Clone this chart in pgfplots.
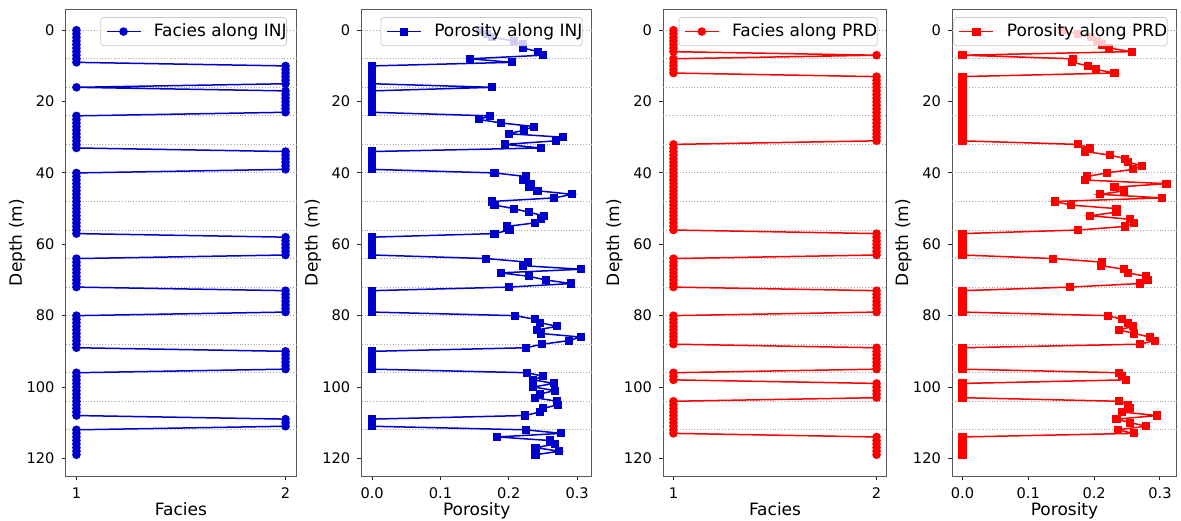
\documentclass[border=0pt]{standalone}
\usepackage{fontspec}
\setmainfont{DejaVu Sans}
\usepackage{pgfplots}
\pgfplotsset{compat=1.18}
\usepackage{pgfplotstable}

\definecolor{injblue}{HTML}{0000CD}
\definecolor{prdred}{HTML}{FF0000}

\pgfplotstableread{
d fac por
0 1 0.158
1 1 0.168
2 1 0.176
3 1 0.207
4 1 0.221
5 1 0.221
6 1 0.243
7 1 0.250
8 1 0.143
9 1 0.204
10 2 0
11 2 0
12 2 0
13 2 0
14 2 0
15 2 0
16 1 0.176
17 2 0
18 2 0
19 2 0
20 2 0
21 2 0
22 2 0
23 2 0
24 1 0.173
25 1 0.156
26 1 0.189
27 1 0.237
28 1 0.222
29 1 0.200
30 1 0.279
31 1 0.269
32 1 0.194
33 1 0.247
34 2 0
35 2 0
36 2 0
37 2 0
38 2 0
39 2 0
40 1 0.179
41 1 0.225
42 1 0.221
43 1 0.232
44 1 0.229
45 1 0.242
46 1 0.293
47 1 0.266
48 1 0.175
49 1 0.179
50 1 0.207
51 1 0.229
52 1 0.251
53 1 0.247
54 1 0.238
55 1 0.197
56 1 0.201
57 1 0.179
58 2 0
59 2 0
60 2 0
61 2 0
62 2 0
63 2 0
64 1 0.167
65 1 0.228
66 1 0.221
67 1 0.306
68 1 0.188
69 1 0.230
70 1 0.254
71 1 0.291
72 1 0.200
73 2 0
74 2 0
75 2 0
76 2 0
77 2 0
78 2 0
79 2 0
80 1 0.209
81 1 0.238
82 1 0.246
83 1 0.271
84 1 0.241
85 1 0.247
86 1 0.305
87 1 0.288
88 1 0.249
89 1 0.225
90 2 0
91 2 0
92 2 0
93 2 0
94 2 0
95 2 0
96 1 0.227
97 1 0.250
98 1 0.236
99 1 0.266
100 1 0.236
101 1 0.267
102 1 0.245
103 1 0.238
104 1 0.271
105 1 0.272
106 1 0.250
107 1 0.245
108 1 0.224
109 2 0
110 2 0
111 2 0
112 1 0.225
113 1 0.277
114 1 0.183
115 1 0.260
116 1 0.268
117 1 0.239
118 1 0.274
119 1 0.239
}\injtable

\pgfplotstableread{
d fac por
0 1 0.152
1 1 0.175
2 1 0.195
3 1 0.205
4 1 0.212
5 1 0.223
6 1 0.257
7 2 0
8 1 0.168
9 1 0.167
10 1 0.191
11 1 0.203
12 1 0.231
13 2 0
14 2 0
15 2 0
16 2 0
17 2 0
18 2 0
19 2 0
20 2 0
21 2 0
22 2 0
23 2 0
24 2 0
25 2 0
26 2 0
27 2 0
28 2 0
29 2 0
30 2 0
31 2 0
32 1 0.175
33 1 0.194
34 1 0.186
35 1 0.224
36 1 0.247
37 1 0.252
38 1 0.273
39 1 0.259
40 1 0.219
41 1 0.189
42 1 0.186
43 1 0.310
44 1 0.231
45 1 0.246
46 1 0.209
47 1 0.303
48 1 0.140
49 1 0.165
50 1 0.234
51 1 0.234
52 1 0.194
53 1 0.255
54 1 0.260
55 1 0.247
56 1 0.176
57 2 0
58 2 0
59 2 0
60 2 0
61 2 0
62 2 0
63 2 0
64 1 0.138
65 1 0.212
66 1 0.211
67 1 0.245
68 1 0.251
69 1 0.279
70 1 0.282
71 1 0.270
72 1 0.163
73 2 0
74 2 0
75 2 0
76 2 0
77 2 0
78 2 0
79 2 0
80 1 0.221
81 1 0.242
82 1 0.252
83 1 0.259
84 1 0.238
85 1 0.261
86 1 0.285
87 1 0.292
88 1 0.270
89 2 0
90 2 0
91 2 0
92 2 0
93 2 0
94 2 0
95 2 0
96 1 0.238
97 1 0.242
98 1 0.249
99 2 0
100 2 0
101 2 0
102 2 0
103 2 0
104 1 0.238
105 1 0.251
106 1 0.255
107 1 0.242
108 1 0.296
109 1 0.234
110 1 0.255
111 1 0.279
112 1 0.236
113 1 0.260
114 2 0
115 2 0
116 2 0
117 2 0
118 2 0
119 2 0
}\prdtable

\newcommand{\labfont}{\fontsize{8.5}{10.2}\selectfont}
\newcommand{\tickfont}{\fontsize{7.3}{8.8}\selectfont}

\pgfplotsset{
  welltrack/.style={
    scale only axis,
    height=233.5pt,
    anchor=south west,
    y dir=reverse,
    ymin=-5.95, ymax=124.95,
    ytick={0,20,...,120},
    ylabel={Depth (m)},
    extra y ticks={0,8,...,112},
    extra y tick labels={},
    extra y tick style={grid=major, major tick length=0pt,
      major grid style={densely dotted, black!35, line width=0.45pt}},
    tick align=outside,
    xtick pos=bottom, ytick pos=left,
    major tick length=2.2pt,
    every tick/.style={black!85, line width=0.45pt},
    axis line style={black!65, line width=0.5pt},
    tick label style={font=\tickfont},
    every axis y label/.style={at={(axis description cs:0,0.5)}, xshift=-24.4pt,
      anchor=center, rotate=90, inner sep=0pt, font=\labfont},
    every axis x label/.style={at={(axis description cs:0.5,0)}, yshift=-19.85pt,
      anchor=base, inner sep=0pt, font=\labfont},
    /pgf/number format/assume math mode=true,
    legend style={at={(1,1)}, anchor=north east, xshift=-4.5pt, yshift=-4pt,
      draw=black!20, fill=white, fill opacity=0.8, text opacity=1, draw opacity=1,
      rounded corners=1.5pt, font=\labfont, inner sep=0pt,
      nodes={inner xsep=0pt, inner ysep=3.1pt}},
    legend image code/.code={%
      \draw[mark repeat=2, mark phase=2] plot coordinates {(2.9pt,0pt) (11.4pt,0pt) (19.9pt,0pt)};
      \path[draw=none, fill=none] (0pt,0pt) (26.6pt,0pt);},
    legend image post style={opacity=1, fill opacity=1},
    legend cell align=left,
  },
  faciestrack/.style={
    welltrack,
    xmin=0.95, xmax=2.05,
    xtick={1,2},
    xlabel={Facies},
  },
  portrack/.style={
    welltrack,
    xtick={0,0.1,0.2,0.3},
    xticklabel style={/pgf/number format/.cd, fixed, fixed zerofill, precision=1},
    xlabel={Porosity},
  },
}

\begin{document}
\begin{tikzpicture}
\path (0,0) rectangle (590.5pt,260pt);

\begin{axis}[faciestrack, at={(33pt,22pt)}, width=115pt]
\addplot[injblue, line width=0.75pt, mark=*, mark size=1.75pt,
  mark options={fill=injblue, draw=injblue}] table[x=fac, y=d] {\injtable};
\addlegendentry{Facies along INJ\hspace{3.4pt}}
\end{axis}

\begin{axis}[portrack, at={(180.85pt,22pt)}, width=115pt,
  xmin=-0.0153, xmax=0.3213]
\addplot[injblue, line width=0.75pt, mark=square*, mark size=1.65pt,
  mark options={fill=injblue, draw=injblue}] table[x=por, y=d] {\injtable};
\addlegendentry{Porosity along INJ\hspace{3.4pt}}
\end{axis}

\begin{axis}[faciestrack, at={(331.65pt,22pt)}, width=111.7pt]
\addplot[prdred, line width=0.75pt, mark=*, mark size=1.75pt,
  mark options={fill=prdred, draw=prdred}] table[x=fac, y=d] {\prdtable};
\addlegendentry{Facies along PRD\hspace{3.4pt}}
\end{axis}

\begin{axis}[portrack, at={(476.15pt,22pt)}, width=112.2pt,
  xmin=-0.0155, xmax=0.3255]
\addplot[prdred, line width=0.75pt, mark=square*, mark size=1.65pt,
  mark options={fill=prdred, draw=prdred}] table[x=por, y=d] {\prdtable};
\addlegendentry{Porosity along PRD\hspace{3.4pt}}
\end{axis}
\end{tikzpicture}
\end{document}
